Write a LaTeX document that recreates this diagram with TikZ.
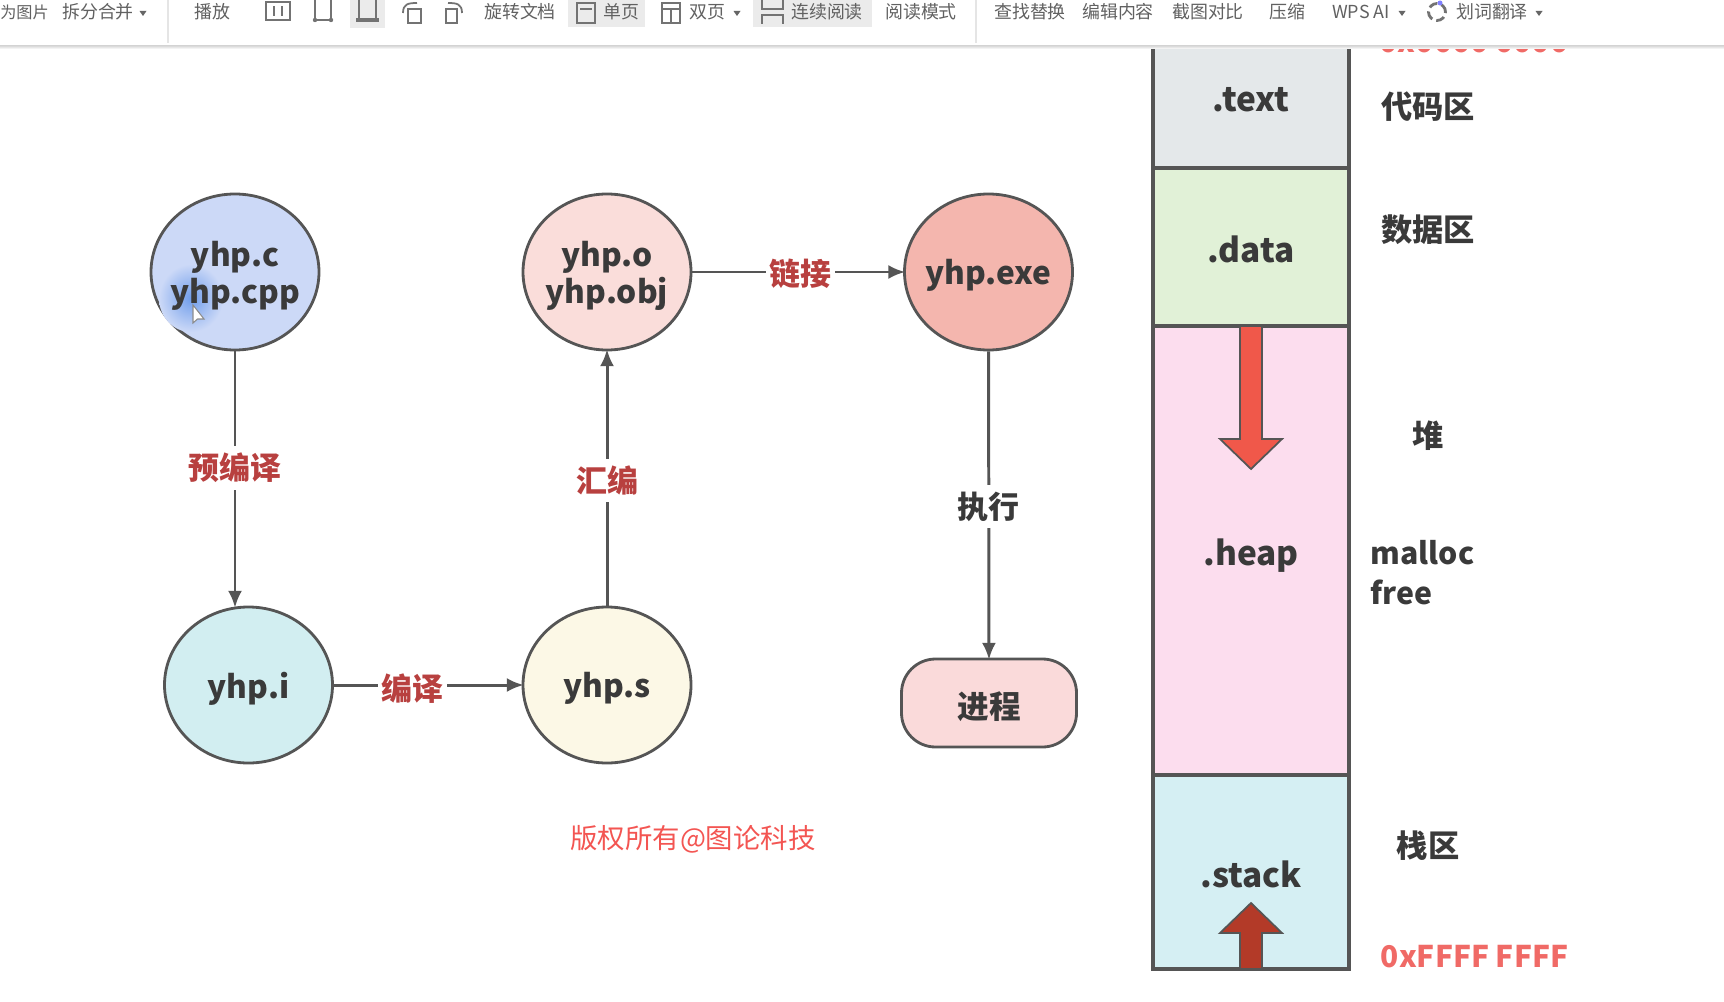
\documentclass[tikz,border=0pt]{standalone}
\usepackage{fontspec}
\setmainfont{Noto Sans CJK SC}
\usepackage{tikz}
\usetikzlibrary{positioning,arrows.meta,shapes.geometric}

\definecolor{linec}{HTML}{555555}
\definecolor{inkc}{HTML}{3A3A3A}
\definecolor{redlab}{HTML}{B8403F}
\definecolor{redtxt}{HTML}{F06A66}
\definecolor{cfill}{HTML}{CCD9F7}
\definecolor{blobc}{HTML}{6F9DEB}
\definecolor{ofill}{HTML}{FADDDA}
\definecolor{exefill}{HTML}{F4B6AE}
\definecolor{ifill}{HTML}{D2EEF1}
\definecolor{sfill}{HTML}{FCF8E6}
\definecolor{runfill}{HTML}{FADADA}
\definecolor{textfill}{HTML}{E4E8EA}
\definecolor{datafill}{HTML}{E1F1D7}
\definecolor{heapfill}{HTML}{FCDDEE}
\definecolor{stackfill}{HTML}{D5EFF3}
\definecolor{downfill}{HTML}{F0584A}
\definecolor{upfill}{HTML}{B33A28}

\begin{document}
\begin{tikzpicture}
[
	stage/.style={shape=ellipse,draw=linec,line width=0.8pt,inner sep=0pt,minimum width=1.68cm,minimum height=1.56cm},
	stagetxt/.style={align=center,text=inkc,font=\bfseries\fontsize{9}{10.6}\selectfont},
	seg/.style={draw=linec,line width=0.9pt,outer sep=0pt,minimum width=1.96cm},
	segtxt/.style={text=inkc,font=\bfseries\fontsize{9.5}{11}\selectfont},
	flow/.style={line width=0.85pt,draw=linec,shorten >=-0.6pt,-{Latex[length=4.8pt,width=4pt]}},
	lab/.style={fill=white,yshift=-0.02cm,inner xsep=1pt,inner ysep=2pt,text=redlab,font=\bfseries\fontsize{8.8}{10}\selectfont},
	note/.style={text=inkc,font=\bfseries\fontsize{8.9}{10}\selectfont},
	addr/.style={text=redtxt,font=\bfseries\fontsize{8.5}{10}\selectfont},
	blockarrow/.style={draw=linec,line width=0.5pt},
	tool/.style={text=black!62,font=\fontsize{5.1}{6}\selectfont,inner sep=0pt},
	ticon/.style={draw=black!55,line width=0.5pt}
]

\useasboundingbox (0,0) rectangle (17.24,10.01);

% stages
\node[stage,fill=cfill] (c) at (2.35,7.29) {};
\shade[inner color=blobc,outer color=cfill] (1.91,7.03) ellipse (0.32 and 0.34);
\node[stage,fill=ofill] (o) at (6.07,7.29) {};
\node[stage,fill=exefill] (exe) at (9.885,7.29) {};
\node[stage,fill=ifill] (i) at (2.485,3.16) {};
\node[stage,fill=sfill] (s) at (6.07,3.16) {};
\node[stage,shape=rectangle,rounded corners=0.34cm,fill=runfill,minimum width=1.75cm,minimum height=0.88cm] (run) at (9.89,2.98) {};

\foreach \nm/\txt in {c/{yhp.c\\yhp.cpp},o/{yhp.o\\yhp.obj},exe/{yhp.exe},i/{yhp.i},s/{yhp.s},run/{进程}}
	\node[stagetxt] (\nm txt) at ([yshift=-0.035cm]\nm.center) {\txt};

\draw[fill=white,draw=black!45,line width=0.3pt] (1.93,6.96) -- (1.93,6.78) -- (1.975,6.82) -- (2.04,6.82) -- cycle;

% flow
\draw[flow] (c.south) -- node[lab,pos=0.45] (prep) {预编译} (c.south |- i.north);
\draw[flow] (i) -- node[lab,pos=0.42,yshift=-0.02cm] (comp) {编译} (s);
\draw[flow] (s) -- node[lab] (asm) {汇编} (o);
\draw[flow] (o) -- node[lab,pos=0.515] (link) {链接} (exe);
\draw[flow] (exe) -- node[lab,text=inkc] (exec) {执行} (run);

\node[text=redtxt!80!red,font=\fontsize{7.8}{9}\selectfont] (mark) at (6.93,1.62) {版权所有@图论科技};

% memory
\node[seg,fill=textfill,minimum height=1.36cm] (text) at (12.51,9.01) {};
\node[seg,fill=datafill,minimum height=1.58cm,below=0pt of text] (data) {};
\node[seg,fill=heapfill,minimum height=4.49cm,below=0pt of data] (heap) {};
\node[seg,fill=stackfill,minimum height=1.94cm,below=0pt of heap] (stack) {};

\node[segtxt] (texttxt) at (text.center) {.text};
\node[segtxt] (datatxt) at ([yshift=-0.02cm]data.center) {.data};
\node[segtxt] (heaptxt) at ([yshift=-0.05cm]heap.center) {.heap};
\node[segtxt] (stacktxt) at ([yshift=-0.02cm]stack.center) {.stack};

\draw[blockarrow,fill=downfill] (heap.north) ++(-0.11,0) -- ++(0,-1.13) -- ++(-0.2,0) -- ++(0.31,-0.3) -- ++(0.31,0.3) -- ++(-0.2,0) -- ++(0,1.13) -- cycle;
\draw[blockarrow,fill=upfill] (stack.south) ++(-0.11,0) -- ++(0,0.36) -- ++(-0.2,0) -- ++(0.31,0.3) -- ++(0.31,-0.3) -- ++(-0.2,0) -- ++(0,-0.36) -- cycle;

\node[note] (codearea) at (14.28,8.94) {代码区};
\node[note] (dataarea) at (14.28,7.71) {数据区};
\node[note] (heaparea) at (14.28,5.65) {堆};
\node[note,font=\bfseries\fontsize{8.6}{10}\selectfont,anchor=west,inner sep=0pt] (mallocnote) at (13.70,4.48) {malloc};
\node[note,font=\bfseries\fontsize{8.6}{10}\selectfont,anchor=west,inner sep=0pt] (freenote) at (13.70,4.09) {free};
\node[note] (stackarea) at (14.28,1.55) {栈区};
\node[addr] (addrhigh) at (14.745,0.445) {0xFFFF FFFF};
\node[addr] (addrlow) at (14.74,9.59) {0x0000 0000};

% toolbar
\fill[white] (0,9.55) rectangle (17.24,10.01);
\shade[top color=black!14,bottom color=white] (0,9.55) rectangle (17.24,9.52);
\fill[black!8] (3.50,9.73) rectangle (3.85,10.01);
\fill[black!8] (5.68,9.74) rectangle (6.45,10.01);
\fill[black!8] (7.53,9.74) rectangle (8.72,10.01);
\draw[black!10,line width=0.4pt] (1.68,9.58) -- (1.68,10.01);
\draw[black!10,line width=0.4pt] (9.76,9.58) -- (9.76,10.01);

\node[tool,font=\fontsize{4.6}{6}\selectfont] (tool0) at (0.245,9.89) {为图片};
\foreach \tx/\tname in {0.98/拆分合并,2.12/播放,5.20/旋转文档,6.21/单页,7.07/双页,8.27/连续阅读,9.21/阅读模式,10.30/查找替换,11.18/编辑内容,12.08/截图对比,12.87/压缩,13.61/WPS AI,14.92/划词翻译}
	\node[tool] at (\tx,9.89) {\tname};

\foreach \tx in {1.43,7.37,14.02,15.39}
	\fill[black!60] (\tx-0.035,9.90) -- (\tx+0.035,9.90) -- (\tx,9.85) -- cycle;

% toolbar icons
\draw[ticon] (2.66,9.81) rectangle (2.90,9.99);
\draw[ticon] (2.74,9.85) -- (2.74,9.95) (2.82,9.85) -- (2.82,9.95);
\draw[ticon] (3.15,9.81) rectangle (3.31,10.03);
\fill[black!55] (3.15,9.81) circle (0.022) (3.31,9.81) circle (0.022);
\draw[ticon] (3.59,9.81) rectangle (3.76,10.03);
\draw[ticon,line width=1pt] (3.56,9.81) -- (3.79,9.81);
\draw[ticon] (4.08,9.78) rectangle (4.21,9.92);
\draw[ticon] (4.03,9.88) .. controls (4.03,9.97) and (4.08,9.98) .. (4.17,9.98);
\draw[ticon] (4.46,9.78) rectangle (4.57,9.92);
\draw[ticon] (4.48,9.98) .. controls (4.57,9.98) and (4.62,9.97) .. (4.62,9.88);
\draw[ticon] (5.77,9.78) rectangle (5.95,9.98);
\draw[ticon] (5.80,9.92) -- (5.92,9.92);
\draw[ticon] (6.62,9.78) rectangle (6.80,9.98);
\draw[ticon] (6.62,9.92) -- (6.80,9.92) (6.71,9.78) -- (6.71,9.92);
\draw[ticon] (7.62,10.01) -- (7.62,9.92) -- (7.83,9.92) -- (7.83,10.01);
\draw[ticon] (7.62,9.77) -- (7.62,9.86) -- (7.83,9.86) -- (7.83,9.77);
\draw[black!55,line width=0.8pt,dash pattern=on 2.5pt off 1.2pt] (14.37,9.89) circle (0.085);
\fill[blue!50!white] (14.40,9.98) circle (0.025);

\end{tikzpicture}
\end{document}
